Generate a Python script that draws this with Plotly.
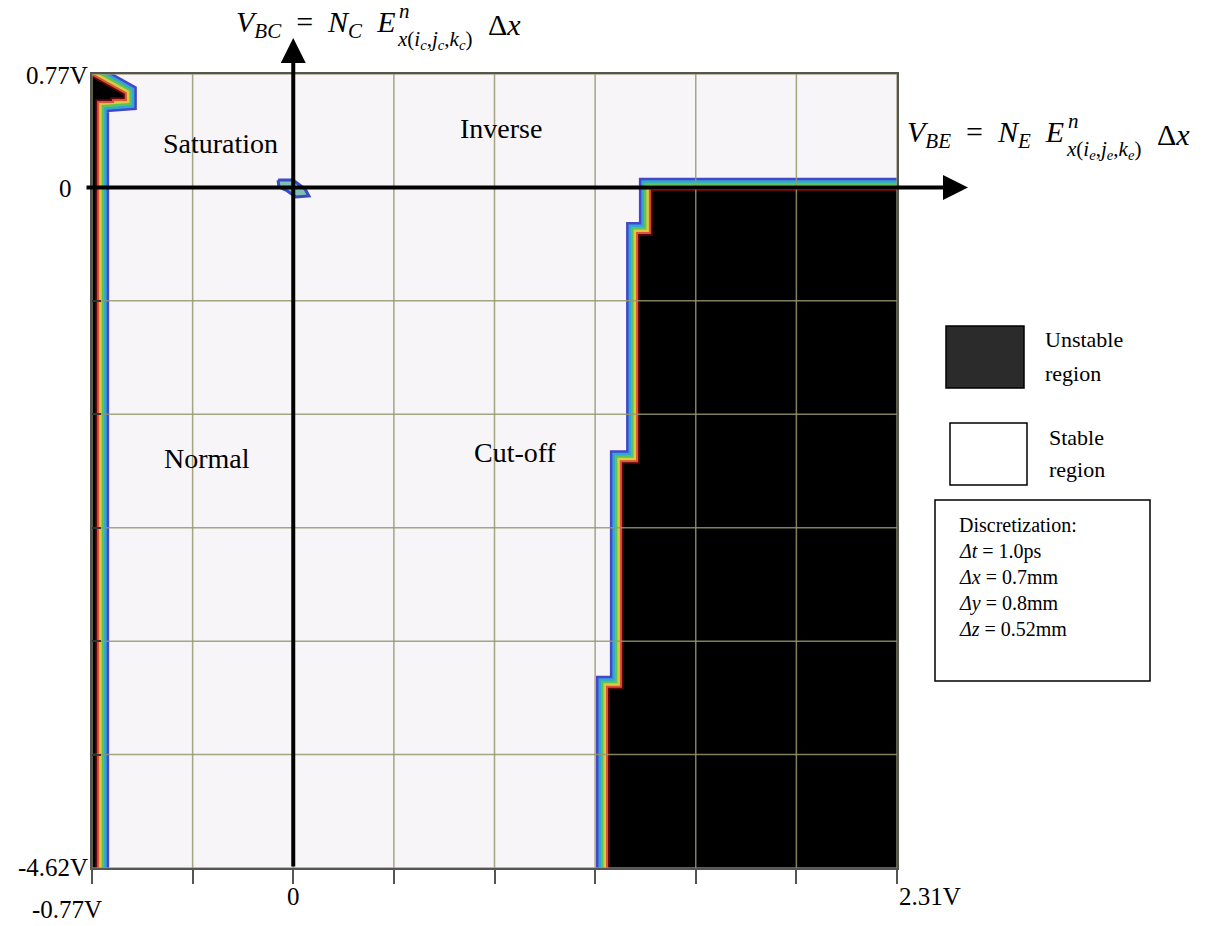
import plotly.graph_objects as go

# ---------------- data ----------------
x_grid = [-0.77, -0.385, 0.0, 0.385, 0.77, 1.155, 1.54, 1.925, 2.31]
y_grid = [0.77, 0.0, -0.77, -1.54, -2.31, -3.08, -3.85, -4.62]

x_tick_vals = [-0.77, 0.0, 2.31]
x_tick_text = ["-0.77V", "0", "2.31V"]
y_tick_vals = [0.77, 0.0, -4.62]
y_tick_text = ["0.77V", "0", "-4.62V"]

# unstable region (main, right side) boundary
unstable_x = [2.31, 2.31, 1.212, 1.212, 1.265, 1.265, 1.327, 1.327, 1.376, 1.376, 2.31]
unstable_y = [-0.03, -4.62, -4.62, -3.41, -3.41, -1.88, -1.88, -0.33, -0.33, -0.03, -0.03]

# unstable sliver along the left edge (with the saturation-corner tip)
left_x = [-0.77, -0.758, -0.758, -0.701, -0.701, -0.652, -0.652, -0.77, -0.77]
left_y = [-4.62, -4.62, 0.600, 0.600, 0.614, 0.614, 0.628, 0.745, -4.62]

# small blip near the origin
blip_x = [-0.058, -0.001, 0.045, 0.060, 0.010, -0.028, -0.055, -0.058]
blip_y = [0.050, 0.050, -0.011, -0.058, -0.065, -0.018, 0.003, 0.050]

region_labels = ["Saturation", "Inverse", "Normal", "Cut-off"]
legend_labels = ["Unstable", "region", "Stable", "region"]
disc_lines = ["Discretization:", "<i>Δt</i> = 1.0ps", "<i>Δx</i> = 0.7mm",
              "<i>Δy</i> = 0.8mm", "<i>Δz</i> = 0.52mm"]

# ---------------- layout helpers ----------------
W, H = 1207, 926
ML, MR, MT, MB = 92, 310, 74, 58
PW, PH = W - ML - MR, H - MT - MB
FONT = "Liberation Serif"
NB = "\u00a0"


def px(xp):
    return (xp - ML) / PW


def py(yp):
    return (H - MB - yp) / PH


fig = go.Figure()

band_colors = ["#4646c8", "#2ea8d6", "#62c05a", "#d6cc44", "#e0503a", "#5a0a0a"]
band_widths = [28, 23, 18, 13, 8, 4]

for xs, ys in [(unstable_x, unstable_y), (left_x, left_y)]:
    for c, w in zip(band_colors, band_widths):
        fig.add_trace(go.Scatter(x=xs, y=ys, mode="lines",
                                 line=dict(color=c, width=w),
                                 hoverinfo="skip", showlegend=False))
    fig.add_trace(go.Scatter(x=xs, y=ys, mode="lines", fill="toself",
                             fillcolor="#000000", line=dict(color="#000000", width=0.5),
                             hoverinfo="skip", showlegend=False))

fig.add_trace(go.Scatter(x=blip_x, y=blip_y, mode="lines", fill="toself",
                         fillcolor="rgba(90,170,160,0.75)",
                         line=dict(color="#3a4cc0", width=3),
                         hoverinfo="skip", showlegend=False))

# grid drawn above the regions (as in the reference)
gx, gy = [], []
for xv in x_grid:
    gx += [xv, xv, None]
    gy += [y_grid[0], y_grid[-1], None]
for yv in y_grid:
    gx += [x_grid[0], x_grid[-1], None]
    gy += [yv, yv, None]
fig.add_trace(go.Scatter(x=gx, y=gy, mode="lines",
                         line=dict(color="rgba(150,150,110,0.85)", width=1.5),
                         hoverinfo="skip", showlegend=False))

fig.update_xaxes(range=[x_grid[0], x_grid[-1]], showgrid=False, zeroline=False,
                 showline=True, linecolor="#555555", linewidth=2, mirror=True,
                 tickvals=x_grid, ticks="outside", ticklen=14, tickwidth=1.5,
                 tickcolor="#555555", showticklabels=False)
fig.update_yaxes(range=[y_grid[-1], y_grid[0]], showgrid=False, zeroline=False,
                 showline=True, linecolor="#555555", linewidth=2, mirror=True,
                 tickvals=y_grid, ticks="inside", ticklen=9, tickwidth=2,
                 tickcolor="#333333", showticklabels=False)

ann = []
# tick labels
x_lab_pos = [(67, 909), (293, 897), (930, 897)]
for t, v, (xx, yy) in zip(x_tick_text, x_tick_vals, x_lab_pos):
    ann.append(dict(text=t, x=px(xx), y=py(yy), xref="paper", yref="paper",
                    xanchor="center", yanchor="middle", showarrow=False,
                    font=dict(family=FONT, size=25, color="black")))
y_lab_pos = [(90, 75), (74, 188), (90, 867)]
for t, v, (xx, yy) in zip(y_tick_text, y_tick_vals, y_lab_pos):
    ann.append(dict(text=t, x=px(xx), y=py(yy), xref="paper", yref="paper",
                    xanchor="right", yanchor="middle", showarrow=False,
                    font=dict(family=FONT, size=25, color="black")))

# region labels
reg_pos = [(-0.28, 0.30), (0.795, 0.40), (-0.33, -1.84), (0.85, -1.80)]
for t, (xx, yy) in zip(region_labels, reg_pos):
    ann.append(dict(text=t, x=xx, y=yy, xref="x", yref="y", showarrow=False,
                    xanchor="center", yanchor="middle",
                    font=dict(family=FONT, size=28, color="black")))

# axes arrows
ann.append(dict(x=px(968), y=0, xref="paper", yref="y", ax=85 - 968, ay=0,
                axref="pixel", ayref="pixel", text="", showarrow=True,
                arrowhead=2, arrowsize=1.25, arrowwidth=4, arrowcolor="black"))
ann.append(dict(x=0, y=py(38), xref="x", yref="paper", ax=0, ay=868 - 38,
                axref="pixel", ayref="pixel", text="", showarrow=True,
                arrowhead=2, arrowsize=1.25, arrowwidth=4, arrowcolor="black"))

# formulas
FF = dict(family=FONT, size=30, color="black")
FS = dict(family=FONT, size=21, color="black")


def formula(main, sup, sub, right_x, yc):
    ann.append(dict(text=main, x=px(right_x), y=py(yc), xref="paper", yref="paper",
                    xanchor="right", yanchor="middle", showarrow=False, font=FF))
    ann.append(dict(text=sup, x=px(right_x), y=py(yc - 13), xref="paper", yref="paper",
                    xanchor="left", yanchor="middle", showarrow=False, font=FS))
    ann.append(dict(text=sub, x=px(right_x - 2), y=py(yc + 16), xref="paper", yref="paper",
                    xanchor="left", yanchor="middle", showarrow=False, font=FS))
    ann.append(dict(text="Δ<i>x</i>", x=px(right_x + 89), y=py(yc), xref="paper",
                    yref="paper", xanchor="left", yanchor="middle", showarrow=False, font=FF))


SP = NB * 2
formula("<i>V</i><sub><i>BC</i></sub>" + SP + "=" + SP + "<i>N</i><sub><i>C</i></sub>" + SP + "<i>E</i>",
        "<i>n</i>",
        "<i>x</i>(<i>i</i><sub><i>c</i></sub>,<i>j</i><sub><i>c</i></sub>,<i>k</i><sub><i>c</i></sub>)",
        397, 24)
formula("<i>V</i><sub><i>BE</i></sub>" + SP + "=" + SP + "<i>N</i><sub><i>E</i></sub>" + SP + "<i>E</i>",
        "<i>n</i>",
        "<i>x</i>(<i>i</i><sub><i>e</i></sub>,<i>j</i><sub><i>e</i></sub>,<i>k</i><sub><i>e</i></sub>)",
        1066, 134)

# legend boxes
shapes = [
    dict(type="rect", xref="paper", yref="paper", x0=px(946), x1=px(1024), y0=py(388), y1=py(326),
         fillcolor="#2b2b2b", line=dict(color="black", width=1.5)),
    dict(type="rect", xref="paper", yref="paper", x0=px(950), x1=px(1027), y0=py(485), y1=py(423),
         fillcolor="white", line=dict(color="black", width=1.5)),
    dict(type="rect", xref="paper", yref="paper", x0=px(935), x1=px(1150), y0=py(681), y1=py(500),
         fillcolor="rgba(0,0,0,0)", line=dict(color="black", width=1.5)),
]
leg_pos = [(1043, 339), (1043, 373), (1047, 437), (1047, 469)]
for t, (xx, yy) in zip(legend_labels, leg_pos):
    ann.append(dict(text=t, x=px(xx), y=py(yy), xref="paper", yref="paper",
                    xanchor="left", yanchor="middle", showarrow=False,
                    font=dict(family=FONT, size=22, color="black")))
for i, t in enumerate(disc_lines):
    ann.append(dict(text=t, x=px(957), y=py(525 + 26 * i), xref="paper", yref="paper",
                    xanchor="left", yanchor="middle", showarrow=False,
                    font=dict(family=FONT, size=20, color="black")))

fig.update_layout(width=W, height=H, margin=dict(l=ML, r=MR, t=MT, b=MB),
                  paper_bgcolor="white", plot_bgcolor="#f8f5f9",
                  annotations=ann, shapes=shapes, showlegend=False)

fig.write_html("out.html")
